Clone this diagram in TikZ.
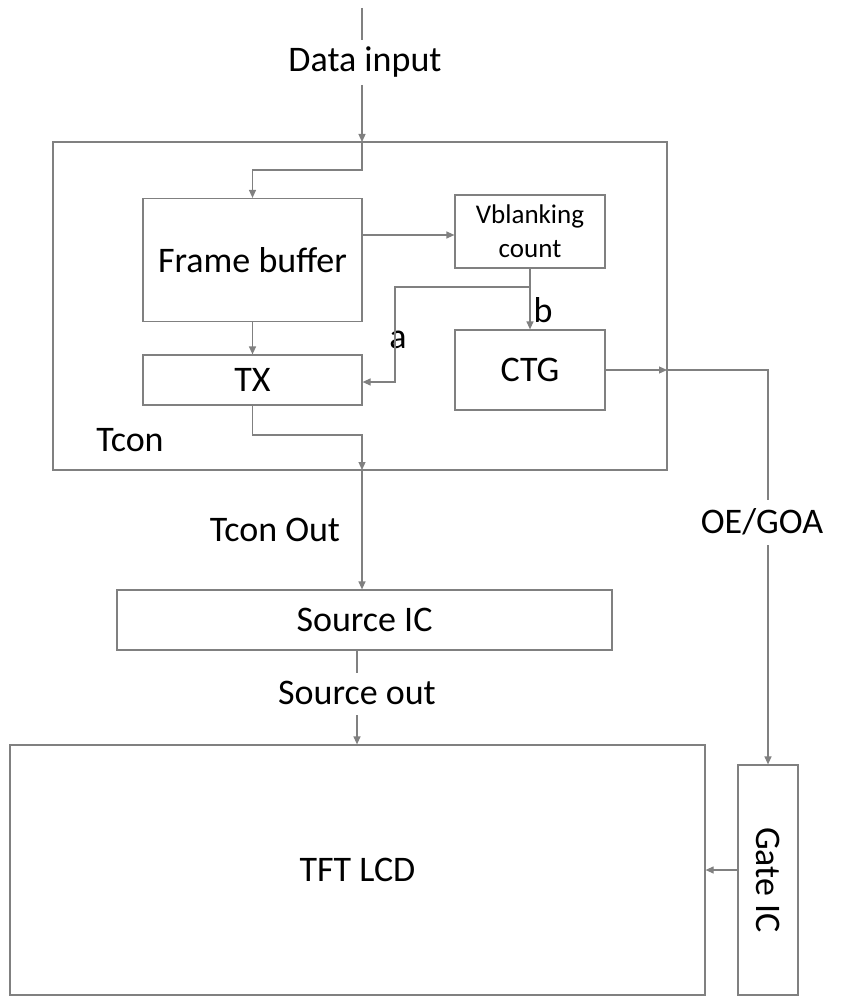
\documentclass[tikz,border=0pt]{standalone}
\usepackage{fontspec}
\setmainfont{Carlito}
\usetikzlibrary{arrows.meta}
\begin{document}
\begin{tikzpicture}[x=1pt,y=-1pt,
  box/.style={draw=gray,line width=1.2pt,inner sep=0pt},
  ln/.style={draw=gray,line width=1.2pt},
  ar/.style={ln,-{Triangle[length=8pt,width=7pt]}},
  lbl/.style={font=\fontsize{36}{40}\selectfont}]
\useasboundingbox (0,0) rectangle (842,1000);
\node[box,minimum width=614pt,minimum height=328pt] (tcon) at (360,306) {};
\node[box,minimum width=219pt,minimum height=123pt,lbl] (fb) at (252.5,260) {Frame buffer};
\node[box,minimum width=150pt,minimum height=73pt,align=center,font=\fontsize{27}{34}\selectfont] (vb) at (530,231.5) {Vblanking\\count};
\node[box,minimum width=219pt,minimum height=50pt,lbl] (tx) at (252.5,380) {TX};
\node[box,minimum width=150pt,minimum height=80pt,lbl] (ctg) at (530,370) {CTG};
\node[box,minimum width=495pt,minimum height=60pt,lbl] (sic) at (364.5,620) {Source IC};
\node[box,minimum width=695pt,minimum height=250pt,lbl] (tft) at (357.5,870) {TFT LCD};
\node[box,minimum width=60pt,minimum height=230pt] (gic) at (768,880) {};
\node[lbl,rotate=-90] (gl) at (gic.center) {Gate IC};
\node[lbl] (din) at (365,62) {Data input};
\node[lbl] (tl) at (130,440) {Tcon};
\node[lbl] (tol) at (275,530) {Tcon Out};
\node[lbl] (oe) at (762,522) {OE/GOA};
\node[lbl] (sol) at (357,693) {Source out};
\node[lbl] (la) at (398,340) {a};
\node[lbl] (lb) at (543,310) {b};
\coordinate (top) at (362,8);
\coordinate (tin) at (362,142);
\coordinate (tout) at (362,470);
\coordinate (tr1) at (667,370);
\draw[ln] (top) -- (362,40);
\draw[ar] (362,85) -- (tin);
\draw[ar] (tin) -- (362,170) -| (fb.north);
\draw[ar] (fb.east |- 0,235) -- (vb.west |- 0,235);
\draw[ar] (fb.south) -- (tx.north);
\draw[ar] (vb.south) -- (ctg.north);
\draw[ar] (530,287) -| (395,382) -- (tx.east |- 0,382);
\draw[ar] (tx.south) |- (362,435) -- (tout);
\draw[ar] (tout) -- (sic.north -| 362,0);
\draw[ln] (sic.south -| 357,0) -- (357,673);
\draw[ar] (357,715) -- (tft.north -| 357,0);
\draw[ar] (ctg.east |- 0,370) -- (tr1);
\draw[ln] (tr1) -| (768,500);
\draw[ar] (768,545) -- (gic.north);
\draw[ar] (gic.west |- 0,870) -- (tft.east |- 0,870);
\end{tikzpicture}
\end{document}
